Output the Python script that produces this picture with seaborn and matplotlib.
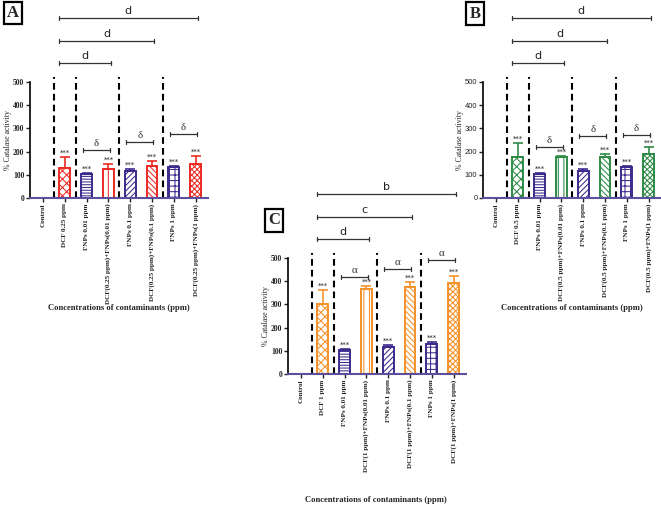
import numpy as np
import pandas as pd
import matplotlib
matplotlib.use("Agg")
import matplotlib.pyplot as plt
import seaborn as sns

# ---------------- data ----------------
labels_A = ["Control", "DCF 0.25 ppm", "FNPs 0.01 ppm", "DCF(0.25 ppm)+FNPs(0.01 ppm)",
            "FNPs 0.1 ppm", "DCF(0.25 ppm)+FNPs(0.1 ppm)", "FNPs 1 ppm", "DCF(0.25 ppm)+FNPs(1 ppm)"]
means_A = [0, 130, 105, 125, 115, 137, 132, 145]
sds_A = [0, 45, 3, 23, 10, 22, 7, 37]

labels_B = ["Control", "DCF 0.5 ppm", "FNPs 0.01 ppm", "DCF(0.5 ppm)+FNPs(0.01 ppm)",
            "FNPs 0.1 ppm", "DCF(0.5 ppm)+FNPs(0.1 ppm)", "FNPs 1 ppm", "DCF(0.5 ppm)+FNPs(1 ppm)"]
means_B = [0, 178, 105, 175, 115, 177, 132, 188]
sds_B = [0, 57, 4, 5, 11, 13, 7, 30]

labels_C = ["Control", "DCF 1 ppm", "FNPs 0.01 ppm", "DCF(1 ppm)+FNPs(0.01 ppm)",
            "FNPs 0.1 ppm", "DCF(1 ppm)+FNPs(0.1 ppm)", "FNPs 1 ppm", "DCF(1 ppm)+FNPs(1 ppm)"]
means_C = [0, 300, 105, 367, 115, 375, 130, 393]
sds_C = [0, 60, 4, 12, 10, 20, 8, 28]

yticks = [0, 100, 200, 300, 400, 500]
stars = ["", "***", "***", "***", "***", "***", "***", "***"]

# significance brackets: (from, to, label)
d_pairs = [(1, 3), (1, 5), (1, 7)]
d_labels_AB = ["d", "d", "d"]
d_labels_C = ["d", "c", "b"]
pair_sig = [(2, 3), (4, 5), (6, 7)]
pair_h_A = [207, 241, 276]
pair_h_B = [220, 267, 271]
pair_h_C = [418, 452, 491]

# ---------------- style ----------------
sns.set_theme(style="white")
plt.rcParams["font.family"] = ["Liberation Serif", "DejaVu Serif"]
plt.rcParams["hatch.linewidth"] = 0.75

PURPLE = "#3d2a8c"
RED = "#ec2b24"
GREEN = "#2e8b46"
ORANGE = "#f5922a"
hatches = ["", "xxxx", "------", "|||", "//////", "\\\\\\\\\\\\", "+++", "xxxxxx"]

W, H = 661, 508
fig = plt.figure(figsize=(W / 100, H / 100), dpi=100)


def rect(l, t, r, b):
    return [l / W, 1 - b / H, (r - l) / W, (b - t) / H]


def panel(ax, labels, means, sds, color, top_labels, pair_h, sig_sym, tick_sans):
    cols = [PURPLE if lab.startswith("FNPs") else color for lab in labels]
    df = pd.DataFrame({"cat": labels, "val": means})
    pal = dict(zip(labels, cols))
    sns.barplot(data=df, x="cat", y="val", hue="cat", palette=pal, legend=False,
                ax=ax, width=0.5, errorbar=None, order=labels, hue_order=labels)
    bars = sorted(ax.patches, key=lambda p: p.get_x())
    for i, p in enumerate(bars):
        p.set_facecolor("white")
        p.set_hatch(hatches[i])
        p.set_edgecolor(cols[i] if i > 0 else PURPLE)
        p.set_linewidth(1.4)
    for i, (m, s) in enumerate(zip(means, sds)):
        if s > 0:
            ax.errorbar(i, m, yerr=[[0], [s]], fmt="none", ecolor=cols[i],
                        elinewidth=1.2, capsize=3.5, capthick=1.2)
        if stars[i]:
            ax.text(i, m + s + 6, stars[i], ha="center", va="bottom", fontsize=5,
                    family="DejaVu Sans", color="#222222")
    ax.vlines([0.5, 1.5, 3.5, 5.5], 0, 522, colors="black", linestyles=(0, (3.2, 2)),
              linewidth=1.5, clip_on=False)
    # big brackets
    for (a, b), lab, h in zip(d_pairs, top_labels, [582, 677, 776]):
        x0, x1 = a - 0.28, b + 0.1
        ax.plot([x0, x1], [h, h], color="#333333", lw=0.9, clip_on=False)
        ax.plot([x0, x0], [h - 10, h + 10], color="#333333", lw=0.9, clip_on=False)
        ax.plot([x1, x1], [h - 10, h + 10], color="#333333", lw=0.9, clip_on=False)
        ax.text((x0 + x1) / 2, h + 10, lab, ha="center", va="bottom", fontsize=8,
                family="DejaVu Sans", color="#222222")
    for (a, b), h in zip(pair_sig, pair_h):
        x0, x1 = a - 0.18, b + 0.05
        ax.plot([x0, x1], [h, h], color="#333333", lw=0.9, clip_on=False)
        ax.plot([x0, x0], [h - 10, h + 10], color="#333333", lw=0.9, clip_on=False)
        ax.plot([x1, x1], [h - 10, h + 10], color="#333333", lw=0.9, clip_on=False)
        ax.text((x0 + x1) / 2, h + 10, sig_sym, ha="center", va="bottom", fontsize=8,
                color="#333333")
    ax.set_xlim(-0.6, 7.55)
    ax.set_ylim(0, 500)
    ax.set_yticks(yticks)
    ax.set_xticks(range(len(labels)))
    ax.set_xticklabels(labels, rotation=90, fontsize=5.1, fontweight="bold", va="top")
    if tick_sans:
        ax.set_yticklabels([str(v) for v in yticks], fontsize=5.5, family="Liberation Sans")
    else:
        ax.set_yticklabels([str(v) for v in yticks], fontsize=5.5, fontweight="bold")
    ax.set_xlabel("")
    ax.set_ylabel("% Catalase activity", fontsize=5.6, labelpad=1)
    ax.tick_params(axis="both", direction="out", length=3, width=1, pad=1,
                   bottom=True, left=True, colors="#222222")
    for s in ["top", "right"]:
        ax.spines[s].set_visible(False)
    ax.spines["left"].set_color("black")
    ax.spines["left"].set_linewidth(1.2)
    ax.spines["bottom"].set_color("#5b4f9e")
    ax.spines["bottom"].set_linewidth(1.5)
    ax.set_facecolor("none")


axA = fig.add_axes(rect(30, 82, 207.6, 198))
panel(axA, labels_A, means_A, sds_A, RED, d_labels_AB, pair_h_A, "δ", False)
axB = fig.add_axes(rect(483, 82, 660.6, 198))
panel(axB, labels_B, means_B, sds_B, GREEN, d_labels_AB, pair_h_B, "δ", True)
axC = fig.add_axes(rect(288, 258, 465.6, 374))
panel(axC, labels_C, means_C, sds_C, ORANGE, d_labels_C, pair_h_C, "α", False)

xl = "Concentrations of contaminants (ppm)"
fig.text(119 / W, 1 - 308 / H, xl, ha="center", va="center", fontsize=6.2, fontweight="bold")
fig.text(572 / W, 1 - 308 / H, xl, ha="center", va="center", fontsize=6.2, fontweight="bold")
fig.text(376 / W, 1 - 500 / H, xl, ha="center", va="center", fontsize=6.2, fontweight="bold")

box = dict(boxstyle="square,pad=0.2", fc="white", ec="black", lw=1.6)
for lab, (cx, cy) in zip(["A", "B", "C"], [(13, 13), (475, 13.5), (274, 220.5)]):
    fig.text(cx / W, 1 - cy / H, lab, ha="center", va="center", fontsize=12,
             fontweight="bold", bbox=box)

fig.savefig("out.png", dpi=100)
